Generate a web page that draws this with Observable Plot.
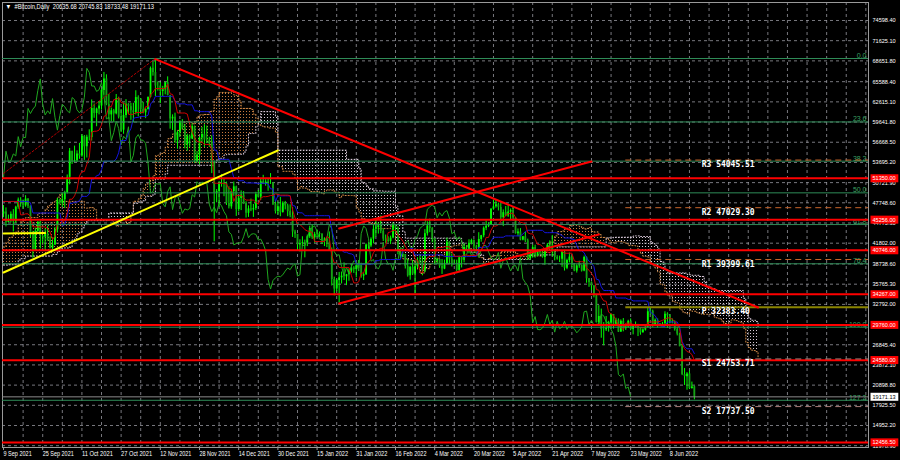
<!DOCTYPE html>
<html><head><meta charset="utf-8">
<script src="https://cdn.jsdelivr.net/npm/d3@7"></script>
<script src="https://cdn.jsdelivr.net/npm/@observablehq/plot@0.6"></script>
<style>
html,body{margin:0;padding:0;background:#000;overflow:hidden;}
#chart{width:900px;height:460px;}
</style></head><body><div id="chart"></div>
<script>
// ---- data: daily [close, high, low] per month (open = previous close) ----
const jun2021 = [[35700,36000,33400],[31600,35750,31300],[32500,33300,28800],[33700,34800,31700],[34650,35200,32350],[31600,35450,31300],[32250,32650,30200],[34650,34700,32000],[34450,35250,33900],[35850,36600,34250],[35050,36050,34000]];
const jul2021 = [[33550,35050,32750],[33850,33950,32750],[34650,34950,33350],[35300,35950,34500],[33700,35300,33200],[34200,35050,33550],[33850,34950,33800],[32850,33950,32200],[33800,34000,32300],[33500,34250,33000],
[34250,34550,33300],[33100,34650,32700],[32700,33350,32300],[32800,33100,31600],[31800,33150,31200],[31400,32200,31100],[31550,31950,31200],[31800,32450,31200],[30800,31900,30500],[29800,31050,29300],
[32100,32850,29500],[32300,32600,31700],[33600,33650,32000],[34300,34450,33450],[35400,35400,33900],[37300,40550,35250],[39450,39550,36400],[40000,40900,38800],[40000,40600,39300],[42200,42300,38350],[41600,42400,41100]];
const aug2021 = [[39950,42600,39450],[39200,40400,38700],[38150,39700,37600],[39750,39950,37700],[40850,41350,37350],[42800,43300,39900],[44600,44700,42500],[43800,45300,43400],[46300,46450,42850],[45600,46650,44700],
[45550,46700,45350],[44400,46200,43850],[47800,47850,44300],[47100,47800,45800],[47050,47400,45600],[46000,47950,45700],[44700,47100,44400],[44800,46050,44300],[46700,47000,43950],[49300,49350,46700],
[48900,49750,48300],[49300,49500,48100],[49550,50500,49100],[47700,49850,47650],[48950,49200,47200],[46850,49300,46400],[49100,49150,46450],[48900,49500,48400],[48800,49600,48100],[47050,48900,46950],[47150,48250,46800]];
const sep2021 = [[48850,48950,46700],[49300,50350,48700],[50050,51000,48400],[49950,50550,49550],[51750,51900,49500],[52650,52800,50950],[46850,52900,43000],[46100,47300,44500],[46400,47350,45550],[44850,47000,44200],
[45150,45950,44800],[46050,46400,44800],[44950,46750,43450],[47100,47250,44700],[48150,48450,46800],[47750,48500,47100],[47300,48150,46800],[48300,48800,47100],[47250,48350,46900],[43000,47300,42600],
[40700,43550,39600],[43550,44000,40600],[44900,44950,43100],[42800,45100,40950],[42700,42950,41700],[43200,43900,40800],[42200,44300,42100],[41050,42750,40950],[41550,42600,40800],[43800,44100,41450]];
const oct2021 = [[48150,48400,43300],[47700,48300,47450],[48200,49200,47100],[49250,49450,46900],[51500,51850,49050],[55350,55750,50400],[53800,55300,53400],[53950,56100,53650],[54950,55400,53700],[54650,56500,54150],
[57500,57800,54450],[56000,57650,54000],[57400,57700,54350],[57350,58500,56850],[61650,62900,56850],[60900,62300,60200],[61550,61700,58950],[62000,62650,60700],[64300,64450,61400],[66000,66950,63600],
[62200,66600,62050],[60700,63700,60000],[61300,61700,59700],[60850,61500,59600],[63100,63700,60700],[60350,63300,60100],[58450,61500,58100],[60600,62450,57850],[62250,62950,60200],[61900,62350,60750],[61300,62400,59900]];
const nov2021 = [[61000,62400,59550],[63250,64250,60700],[62950,63500,60400],[61450,63100,60750],[61000,62550,60850],[61500,61600,60150],[63300,63300,61400],[67550,67750,63200],[66950,68500,66400],[64950,69000,63400],
[64950,65550,64200],[64150,65450,62350],[64400,64900,63400],[65450,65500,63650],[63550,66300,63500],[60100,63500,58600],[60350,60700,58400],[56900,60950,56500],[58100,58300,55650],[59750,59800,57450],
[58700,60000,58500],[56300,59300,55700],[57550,57850,55350],[57150,57750,55900],[58950,59350,57050],[53750,59050,53600],[54750,55300,53600],[57300,57400,53350],[57800,58850,56700],[57000,59250,55900]];
const dec2021 = [[56950,59050,56500],[56500,57400,55900],[53600,57600,52050],[49200,53900,42000],[49400,49700,47750],[50600,50900,47100],[50500,51900,50050],[50550,51200,48650],[47650,50800,47350],[47150,50100,46850],
[49400,49500,46800],[50100,50800,48700],[46750,50200,45750],[48400,48650,46400],[48900,49500,46600],[47650,49400,47550],[46200,47900,45500],[46850,47300,45600],[46700,48300,46450],[46900,47500,45600],
[48950,49300,46600],[48600,49550,48450],[50850,51350,48100],[50450,51800,50450],[50800,51150,50200],[50650,51250,49450],[50650,52050,50450],[47550,50700,47350],[46450,48100,46100],[47150,47850,45950],[46300,48550,45700]];
const jan2022 = [[47700,47900,46250],[47300,47950,46700],[46450,47550,45700],[45850,47450,45550],[43450,47050,42650],[43100,43700,42500],[41550,43100,40650],[41750,42300,40500],[41850,42750,41300],[41850,42250,39650],
[42750,43000,41300],[43950,44300,42500],[42600,44450,42350],[43100,43400,41800],[43200,43750,42600],[43100,43450,42600],[42250,43200,41600],[42400,42600,41300],[41700,42550,41150],[40700,43450,40600],
[36450,41100,35500],[35050,36800,34050],[36300,36500,34650],[36700,37500,33000],[36950,37550,35800],[36850,38900,36300],[37150,37200,35550],[37700,38000,36200],[38150,38650,37400],[37900,38350,37350],[38500,38700,36700]];
const feb2022 = [[38750,39250,38050],[36950,38850,36650],[37150,37400,36300],[41550,41700,37050],[41400,41900,40900],[42400,42600,41150],[43850,44500,41700],[44100,45450,42700],[44350,44800,43150],[43550,45800,43200],
[42400,43900,42050],[42250,43000,41700],[42050,42750,41850],[42550,42850,41600],[44550,44750,42450],[43950,44550,43300],[40550,44200,40100],[40000,40950,39450],[40100,40450,39650],[38350,40150,38000],
[37000,39450,36800],[38250,38400,36350],[37250,39250,37050],[38350,38850,34350],[39200,39650,38050],[39100,40150,38600],[37700,39850,37000],[43200,43800,37450]];
const mar2022 = [[44350,44950,42850],[43950,45350,43350],[42450,44100,41850],[39150,42500,38600],[39400,39600,38650],[38400,39450,38100],[37990,39400,37200],[38750,39300,37900],[41950,42550,38700],[39450,42000,38600],
[38750,40200,38300],[38800,39350,38700],[37800,39300,37600],[39650,39900,37600],[39300,39850,38150],[41150,41700,38900],[40950,41450,40550],[41800,42300,40250],[42200,42400,41550],[41250,42300,40950],
[41050,41500,40500],[42350,43350,40900],[42900,42950,41950],[44000,44200,42600],[44300,45050,43650],[44550,44800,44100],[46800,46900,44400],[47150,48150,46650],[47450,48100,46950],[47050,47700,46550],[45550,47600,45250]];
const apr2022 = [[46300,46700,44250],[45800,47200,45700],[46400,47450,45600],[46600,46850,45150],[45500,47100,45400],[43200,45550,43150],[43450,43900,42750],[42250,43950,42150],[42750,42800,42150],[42150,43400,41900],
[39550,42400,39250],[40100,40700,39300],[41150,41500,39600],[39950,41500,39600],[40550,40850,39800],[40400,40700,40050],[39700,40600,39600],[40800,41000,38550],[41500,41750,40600],[41400,42150,40900],
[40500,42950,39800],[39700,40800,39200],[39450,39950,39300],[39450,39900,38950],[40450,40600,38250],[38100,40750,37700],[39250,39450,37900],[39750,40350,38900],[38600,39900,38200],[37700,38800,37600]];
const may2022 = [[38450,38650,37400],[38500,39150,38100],[37700,38600,37550],[39700,39900,37600],[36550,39800,35900],[36000,36600,35300],[35500,36100,34800],[34050,35550,33750],[30100,34250,30050],[31000,32600,29850],
[29100,32100,27800],[29050,30100,26700],[29300,31000,28800],[30100,30300,28700],[31300,31400,29500],[29850,31300,29150],[30450,30750,29500],[28700,30650,28650],[30300,30500,28700],[29200,30700,28750],
[29450,29650,28950],[30300,30450,29250],[29100,30650,28900],[29650,29850,28300],[29550,30200,29300],[29200,29850,28050],[28600,29350,28250],[29000,29200,28550],[29450,29550,28850],[31700,32200,29300],[31800,32350,31250]];
const jun2022 = [[29800,31950,29400],[30450,30650,29600],[29700,30650,29300],[29850,29950,29500],[29900,30150,29500],[31350,31700,29900],[31100,31550,29250],[30200,31300,29900],[30100,30650,29900],[29100,30350,28850],
[28400,29450,28150],[26550,28550,26550],[22450,26900,22300],[22150,23350,20850],[22550,22750,20150],[20400,22950,20250],[20635.68,21350,20300],[19171.13,20745.83,18733.48]];

const lastOHLC = [20635.68, 20745.83, 18733.48, 19171.13];
const yTickValues = [74598.40,71625.10,68651.80,65588.40,62615.10,59641.80,56668.50,53695.20,50721.90,47748.60,44775.30,41802.00,38738.60,35765.30,32792.00,29818.70,26845.40,23872.10,20898.80,17925.50,14952.20,11978.90];
const dateTickLabels = ["2021-09-09","2021-09-25","2021-10-11","2021-10-27","2021-11-12","2021-11-28","2021-12-14","2021-12-30","2022-01-15","2022-01-31","2022-02-16","2022-03-04","2022-03-20","2022-04-05","2022-04-21","2022-05-07","2022-05-23","2022-06-08"];
const redLevels = [51350.00, 45256.00, 40746.00, 34267.00, 29760.00, 24580.00, 12456.50];
const fibLabels = ["0.0","23.6","38.2","50.0","61.8","76.4","100.0","127.2"];
const fibValues = [69000, 59660, 53885, 49215, 44545, 38770, 29430, 18665];
const pivotNames = ["R3","R2","R1","P","S1","S2"];
const pivotValues = [54045.51, 47029.30, 39399.61, 32383.40, 24753.71, 17737.50];
const pivotStart = "2022-05-21", pivotLabelAt = "2022-06-21";
const trendDown = [["2021-11-10", 68900], ["2022-07-14", 32330]];
const channelUpper = [["2022-01-24", 43965], ["2022-05-07", 53830]];
const channelLower = [["2022-01-24", 32920], ["2022-05-10", 43080]];
const yellowTrend = [["2021-09-09", 37485], ["2021-12-30", 55450]];
const yellowFlat = [["2021-09-09", 43230], ["2021-09-26", 43300]];
const fibAnchor = [["2021-09-09", 52070], ["2021-11-10", 69000]];

// ---- build rows ----
const monthStarts = [[2021,5,20],[2021,6,1],[2021,7,1],[2021,8,1],[2021,9,1],[2021,10,1],[2021,11,1],[2022,0,1],[2022,1,1],[2022,2,1],[2022,3,1],[2022,4,1],[2022,5,1]];
const months = [jun2021,jul2021,aug2021,sep2021,oct2021,nov2021,dec2021,jan2022,feb2022,mar2022,apr2022,may2022,jun2022];
const rows = [];
months.forEach((m, k) => {
  const [yy, mm, dd] = monthStarts[k];
  m.forEach((d, j) => rows.push({date: new Date(Date.UTC(yy, mm, dd + j)), close: d[0], high: d[1], low: d[2]}));
});
rows.forEach((r, i) => r.open = i ? rows[i-1].close : r.close);
rows[rows.length-1].open = lastOHLC[0];

// ---- Ichimoku (9, 26, 52) ----
function midHL(i, n) {
  if (i < n - 1) return undefined;
  let h = -Infinity, l = Infinity;
  for (let j = i - n + 1; j <= i; j++) { h = Math.max(h, rows[j].high); l = Math.min(l, rows[j].low); }
  return (h + l) / 2;
}
const tenkan = [], kijun = [], spans = [], chikou = [];
rows.forEach((r, i) => {
  const t = midHL(i, 9), k = midHL(i, 26), b = midHL(i, 52);
  if (t !== undefined) tenkan.push({date: r.date, v: t});
  if (k !== undefined) kijun.push({date: r.date, v: k});
  if (b !== undefined) spans.push({date: d3.utcDay.offset(r.date, 26), a: (t + k) / 2, b});
  if (i >= 26) chikou.push({date: rows[i-26].date, v: r.close});
});

const x0 = new Date(Date.UTC(2021, 8, 8, 14));
const x1 = new Date(Date.UTC(2022, 7, 28, 2));
const vis = new Date(Date.UTC(2021, 8, 9));
const inView = d => d.date >= vis;
const candles = rows.filter(inView);
const bull = candles.filter(d => d.close >= d.open);
const bear = candles.filter(d => d.close < d.open);
const vGrid = d3.utcDay.range(vis, x1, 8).slice(1);
const dateTicks = dateTickLabels.map(s => new Date(s));
const seg = arr => arr.map(([d, v]) => ({date: new Date(d), v}));
const cloud = spans.filter(inView);

const FONT = "'Liberation Sans',Arial,sans-serif";
const pivots = pivotNames.map((n, i) => ({name: n, v: pivotValues[i]}));
const fibs = fibLabels.map((l, i) => ({label: l, v: fibValues[i]}));
const title = "\u25BC  #Bitcoin,Daily  " + lastOHLC.map(v => v.toFixed(2)).join(" ");

const svg = Plot.plot({
  width: 900, height: 460,
  marginLeft: 2, marginRight: 32, marginTop: 2, marginBottom: 13,
  style: {background: "#000", color: "#fff", fontFamily: FONT, fontSize: "7px", overflow: "visible"},
  x: {type: "utc", domain: [x0, x1]},
  y: {domain: [11712, 77249]},
  marks: [
    Plot.gridY({ticks: yTickValues, stroke: "#a0a0a8", strokeOpacity: 0.75, strokeDasharray: "3,3"}),
    Plot.gridX({ticks: vGrid, stroke: "#a0a0a8", strokeOpacity: 0.75, strokeDasharray: "3,3"}),
    Plot.frame({stroke: "#9a9a9a"}),
    // Ichimoku cloud (hatched later with dot patterns)
    Plot.areaY(cloud, {x: "date", y1: "b", y2: d => Math.max(d.a, d.b), fill: "#c87838", ariaDescription: "cloudBull", curve: "step-after"}),
    Plot.areaY(cloud, {x: "date", y1: "a", y2: d => Math.max(d.a, d.b), fill: "#d0c4d0", ariaDescription: "cloudBear", curve: "step-after"}),
    Plot.line(cloud, {x: "date", y: "a", stroke: "#d08a48", strokeWidth: 1, strokeDasharray: "1,2", curve: "step-after"}),
    Plot.line(cloud, {x: "date", y: "b", stroke: "#d8c8d8", strokeWidth: 1, strokeDasharray: "1,2", curve: "step-after"}),
    // candles
    Plot.ruleX(candles, {x: "date", y1: "low", y2: "high", stroke: "#00ff00", strokeWidth: 1}),
    Plot.ruleX(bull, {x: "date", y1: "open", y2: "close", stroke: "#00ff00", strokeWidth: 1.8}),
    Plot.ruleX(bear, {x: "date", y1: "open", y2: "close", stroke: "#17a017", strokeWidth: 1.8}),
    // Ichimoku lines
    Plot.line(chikou.filter(inView), {x: "date", y: "v", stroke: "#1fa81f", strokeWidth: 1}),
    Plot.line(kijun.filter(inView), {x: "date", y: "v", stroke: "#1414e0", strokeWidth: 1}),
    Plot.line(tenkan.filter(inView), {x: "date", y: "v", stroke: "#d00000", strokeWidth: 1}),
    // fibonacci levels
    Plot.ruleY(fibs, {y: "v", stroke: "#2e8b57", strokeWidth: 1}),
    Plot.text(fibs, {y: "v", text: "label", frameAnchor: "right", textAnchor: "end", lineAnchor: "bottom", dx: -2, dy: -0.5, fill: "#3aa060", fontSize: 7}),
    // current price line
    Plot.ruleY([lastOHLC[3]], {stroke: "#8c8c8c", strokeWidth: 1}),
    // red S/R lines
    Plot.ruleY(redLevels, {stroke: "#ff0000", strokeWidth: 2}),
    // pivots
    Plot.ruleY(pivots.filter(d => d.name[0] === "R"), {y: "v", x1: () => new Date(pivotStart), x2: () => x1, stroke: "#c8642a", strokeWidth: 1, strokeDasharray: "6,4"}),
    Plot.ruleY(pivots.filter(d => d.name[0] === "S"), {y: "v", x1: () => new Date(pivotStart), x2: () => x1, stroke: "#a87c78", strokeWidth: 1, strokeDasharray: "6,4"}),
    Plot.ruleY(pivots.filter(d => d.name === "P"), {y: "v", x1: () => new Date(pivotStart), x2: () => x1, stroke: "#8a8400", strokeWidth: 2}),
    Plot.text(pivots, {x: () => new Date(pivotLabelAt), y: "v", text: d => d.name + " " + d.v.toFixed(2), textAnchor: "start", lineAnchor: "top", dy: 1.5, fill: "#ffffff", fontSize: 8, fontWeight: "bold", fontFamily: "'DejaVu Sans Mono',monospace"}),
    // trendlines
    Plot.line(seg(fibAnchor), {x: "date", y: "v", stroke: "#b00000", strokeWidth: 1, strokeDasharray: "2,2"}),
    Plot.line(seg(trendDown), {x: "date", y: "v", stroke: "#ff0000", strokeWidth: 2}),
    Plot.line(seg(channelUpper), {x: "date", y: "v", stroke: "#ff0000", strokeWidth: 2}),
    Plot.line(seg(channelLower), {x: "date", y: "v", stroke: "#ff0000", strokeWidth: 2}),
    Plot.line(seg(yellowTrend), {x: "date", y: "v", stroke: "#ffff00", strokeWidth: 2}),
    Plot.line(seg(yellowFlat), {x: "date", y: "v", stroke: "#ffff00", strokeWidth: 2}),
    // axes
    Plot.axisY({ticks: yTickValues, anchor: "right", tickSize: 0, tickPadding: 4, tickFormat: d => d.toFixed(2), label: null, fill: "#ffffff", fontSize: 6, ariaDescription: "ylab"}),
    Plot.axisX({ticks: dateTicks, anchor: "bottom", tickSize: 3, tickPadding: 1, tickFormat: d3.utcFormat("%-d %b %Y"), textAnchor: "start", label: null, fill: "#ffffff", stroke: "#9a9a9a", fontSize: 6.5, ariaDescription: "xlab"}),
    // right-side labels
    Plot.text(redLevels, {y: d => d, text: d => d.toFixed(2), frameAnchor: "right", textAnchor: "start", dx: 4, fill: "#ffffff", fontSize: 6, ariaDescription: "redlab"}),
    Plot.text([lastOHLC[3]], {y: d => d, text: d => d.toFixed(2), frameAnchor: "right", textAnchor: "start", dx: 4, fill: "#000000", fontSize: 6, ariaDescription: "pricelab"}),
    // title
    Plot.text([title], {text: d => d, frameAnchor: "top-left", textAnchor: "start", lineAnchor: "top", dx: 3, dy: 2, fill: "#ffffff", fontSize: 7, ariaDescription: "title"})
  ]
});

document.getElementById("chart").append(svg);
const ns = "http://www.w3.org/2000/svg";

// ---- dotted cloud patterns ----
const defs = document.createElementNS(ns, "defs");
function makePattern(id, color) {
  const p = document.createElementNS(ns, "pattern");
  p.setAttribute("id", id); p.setAttribute("width", "3"); p.setAttribute("height", "3");
  p.setAttribute("patternUnits", "userSpaceOnUse");
  const r = document.createElementNS(ns, "rect");
  r.setAttribute("width", "1"); r.setAttribute("height", "1"); r.setAttribute("fill", color);
  p.appendChild(r); defs.appendChild(p);
}
makePattern("dotsBull", "#c87a3e");
makePattern("dotsBear", "#d4c8d4");
svg.insertBefore(defs, svg.firstChild);
function sel(desc) {
  return [...svg.querySelectorAll("g")].filter(g => g.getAttribute("aria-description") === desc);
}
sel("cloudBull").forEach(g => { g.setAttribute("fill", "url(#dotsBull)"); g.querySelectorAll("path").forEach(p => p.setAttribute("fill", "url(#dotsBull)")); });
sel("cloudBear").forEach(g => { g.setAttribute("fill", "url(#dotsBear)"); g.querySelectorAll("path").forEach(p => p.setAttribute("fill", "url(#dotsBear)")); });

// ---- compact MetaTrader-like label widths ----
function squeeze(desc, perChar) {
  sel(desc).forEach(g => g.querySelectorAll("text").forEach(t => {
    const n = t.textContent.length;
    t.setAttribute("textLength", (n * perChar).toFixed(1));
    t.setAttribute("lengthAdjust", "spacingAndGlyphs");
  }));
}
squeeze("ylab", 2.9);
squeeze("xlab", 2.82);
squeeze("redlab", 2.9);
squeeze("pricelab", 2.9);
squeeze("title", 2.75);

// ---- label boxes ----
function addBoxes(desc, fill) {
  sel(desc).forEach(g => g.querySelectorAll("text").forEach(t => {
    const b = t.getBBox();
    const r = document.createElementNS(ns, "rect");
    r.setAttribute("x", b.x - 2);
    r.setAttribute("y", b.y - 1);
    r.setAttribute("width", b.width + 4);
    r.setAttribute("height", b.height + 2);
    r.setAttribute("fill", fill);
    const tr = t.getAttribute("transform");
    if (tr) r.setAttribute("transform", tr);
    t.parentNode.insertBefore(r, t);
  }));
}
addBoxes("redlab", "#ff0000");
addBoxes("pricelab", "#ffffff");
</script>
</body></html>
